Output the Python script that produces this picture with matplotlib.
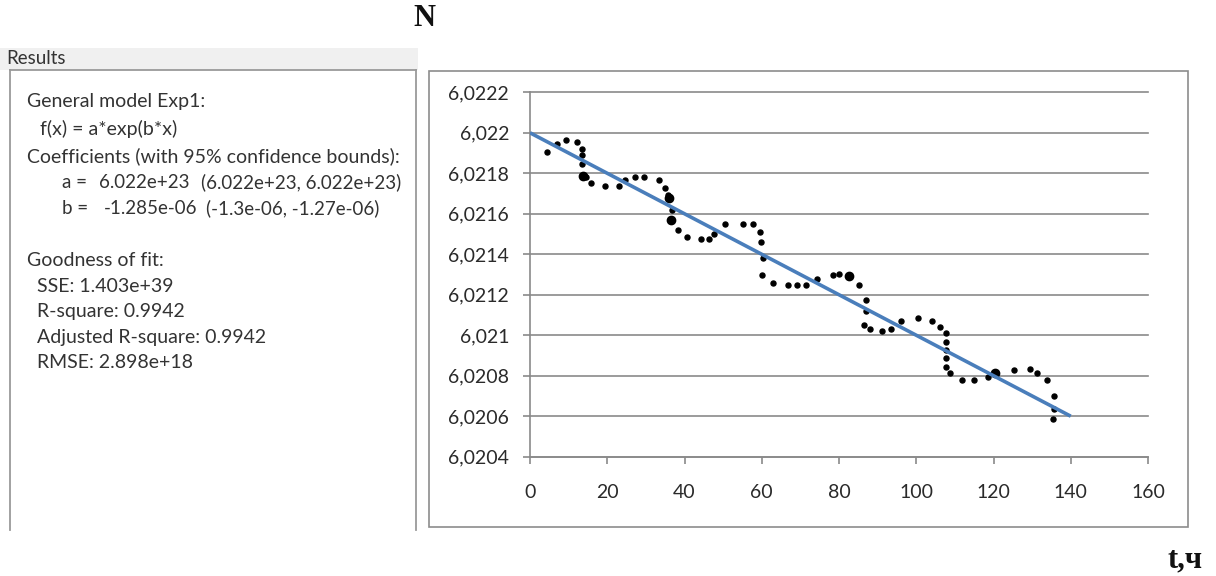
import matplotlib
matplotlib.use("Agg")
import matplotlib.pyplot as plt
from matplotlib.ticker import FixedLocator, FuncFormatter
from matplotlib.patches import Rectangle
from matplotlib.lines import Line2D

# ---------------- data ----------------
t_hours = [4.3, 7.1, 9.2, 12.1, 13.4, 13.4, 13.4, 13.8, 14.4, 15.8, 19.5, 23.1,
           24.5, 27.3, 29.6, 33.3, 35.0, 35.8, 36.1, 36.7, 36.4, 38.2, 40.7,
           44.4, 46.4, 47.6, 50.6, 55.1, 57.8, 59.5, 59.9, 60.4, 60.0, 62.8,
           66.9, 69.0, 71.4, 74.4, 78.5, 80.1, 82.7, 85.3, 87.0, 87.0, 86.5,
           87.9, 91.1, 93.5, 96.0, 100.4, 104.2, 106.2, 107.7, 107.7, 107.7,
           107.7, 107.7, 108.7, 111.9, 115.0, 118.5, 120.4, 125.4, 129.4,
           131.2, 133.9, 135.7, 135.7, 135.3]
n_values = [6.021906, 6.021944, 6.021962, 6.021955, 6.021921, 6.021889, 6.021847,
            6.021789, 6.021783, 6.021750, 6.021735, 6.021735, 6.021766, 6.021781,
            6.021781, 6.021766, 6.021728, 6.021695, 6.021679, 6.021618, 6.021567,
            6.021522, 6.021484, 6.021477, 6.021477, 6.021498, 6.021547, 6.021547,
            6.021547, 6.021508, 6.021462, 6.021383, 6.021297, 6.021260, 6.021250,
            6.021250, 6.021250, 6.021280, 6.021297, 6.021304, 6.021295, 6.021250,
            6.021173, 6.021119, 6.021053, 6.021032, 6.021020, 6.021032, 6.021070,
            6.021086, 6.021070, 6.021040, 6.021009, 6.020966, 6.020926, 6.020889,
            6.020843, 6.020811, 6.020780, 6.020780, 6.020795, 6.020815, 6.020828,
            6.020835, 6.020811, 6.020780, 6.020701, 6.020634, 6.020584]
big_t = [13.8, 36.1, 36.4, 82.7, 120.4]
big_n = [6.021789, 6.021679, 6.021567, 6.021295, 6.020815]
fit_t = [0, 140]
fit_n = [6.0220, 6.0206]

x_ticks = [0, 20, 40, 60, 80, 100, 120, 140, 160]
y_ticks = [6.0204, 6.0206, 6.0208, 6.0210, 6.0212, 6.0214, 6.0216, 6.0218, 6.0220, 6.0222]

results_title = "Results"
results_lines = [
    ("General model Exp1:", 27, 101, 14),
    ("f(x) = a*exp(b*x)", 40, 129, 14),
    ("Coefficients (with 95% confidence bounds):", 27, 156, 14),
    ("a =", 62, 182, 13.5),
    ("6.022e+23", 99, 182, 13.5),
    ("(6.022e+23, 6.022e+23)", 201, 182, 13.5),
    ("b =", 62, 208, 13.5),
    ("-1.285e-06", 104, 208, 13.5),
    ("(-1.3e-06, -1.27e-06)", 206, 208, 13.5),
    ("Goodness of fit:", 27, 260, 14),
    ("SSE: 1.403e+39", 37, 286, 14),
    ("R-square: 0.9942", 37, 311, 14),
    ("Adjusted R-square: 0.9942", 37, 337, 14),
    ("RMSE: 2.898e+18", 37, 363, 14),
]

# ---------------- figure ----------------
W, H = 1216, 576
fig = plt.figure(figsize=(W / 100, H / 100), dpi=100)
fig.patch.set_facecolor("white")


def fx(px):
    return px / W


def fy(py):
    return 1 - py / H


GRAY = "#8a8a8a"
TEXT = "#333333"

# Results panel
fig.patches.append(Rectangle((fx(0), fy(70)), fx(418), (70 - 48) / H,
                             transform=fig.transFigure, facecolor="#f0f0f0",
                             edgecolor="none", zorder=0))
fig.text(fx(6), fy(59), results_title, fontsize=13.5, family="Lato",
         color="#333333", va="center", ha="left")
for (x0, y0, x1, y1) in [(10, 70, 10, 530), (10, 70, 416, 70), (416, 70, 416, 530)]:
    fig.lines.append(Line2D([fx(x0), fx(x1)], [fy(y0), fy(y1)],
                            transform=fig.transFigure, color="#9a9a9a", lw=1.3))
for txt, px, py, fs in results_lines:
    fig.text(fx(px), fy(py), txt, fontsize=fs, family="Lato", color=TEXT,
             va="center", ha="left")

# Chart frame
fig.patches.append(Rectangle((fx(429), fy(527)), fx(1188 - 429), (527 - 71) / H,
                             transform=fig.transFigure, facecolor="none",
                             edgecolor="#8c8c8c", lw=1.2, zorder=1))

# Axes
ax = fig.add_axes([fx(530), fy(456.7), fx(1148 - 530), (456.7 - 92.3) / H])
ax.set_xlim(0, 160)
ax.set_ylim(6.0204, 6.0222)
ax.patch.set_alpha(0)
for s in ["top", "right"]:
    ax.spines[s].set_visible(False)
for s in ["left", "bottom"]:
    ax.spines[s].set_color(GRAY)
    ax.spines[s].set_linewidth(1.2)
ax.xaxis.set_major_locator(FixedLocator(x_ticks))
ax.yaxis.set_major_locator(FixedLocator(y_ticks))
ax.yaxis.set_major_formatter(FuncFormatter(
    lambda v, p: f"{v:.4f}".rstrip("0").replace(".", ",")))
ax.xaxis.set_major_formatter(FuncFormatter(lambda v, p: f"{v:g}"))
ax.tick_params(axis="both", direction="out", length=5, width=1.2, color=GRAY,
               labelsize=14, labelcolor="#2a2a2a")
ax.tick_params(axis="x", pad=15)
ax.tick_params(axis="y", pad=10)
for lab in ax.get_xticklabels() + ax.get_yticklabels():
    lab.set_family("Lato")
ax.yaxis.grid(True, color=GRAY, lw=1.2)
ax.set_axisbelow(True)
for gl in ax.get_ygridlines():
    gl.set_clip_on(False)

ax.plot(t_hours, n_values, "o", color="black", ms=3.6, zorder=3, clip_on=False)
ax.plot(big_t, big_n, "o", color="black", ms=6, zorder=3, clip_on=False)
ax.plot(fit_t, fit_n, "-", color="#4a7ebb", lw=2.6, zorder=4, solid_capstyle="butt")

# Axis labels
fig.text(fx(424), fy(18), "N", fontsize=22, family="Liberation Serif",
         weight="bold", color="#111111", ha="center", va="center")
fig.text(fx(1185), fy(560), "t,ч", fontsize=22, family="Liberation Serif",
         weight="bold", color="#111111", ha="center", va="center")

fig.savefig("out.png", dpi=100)
